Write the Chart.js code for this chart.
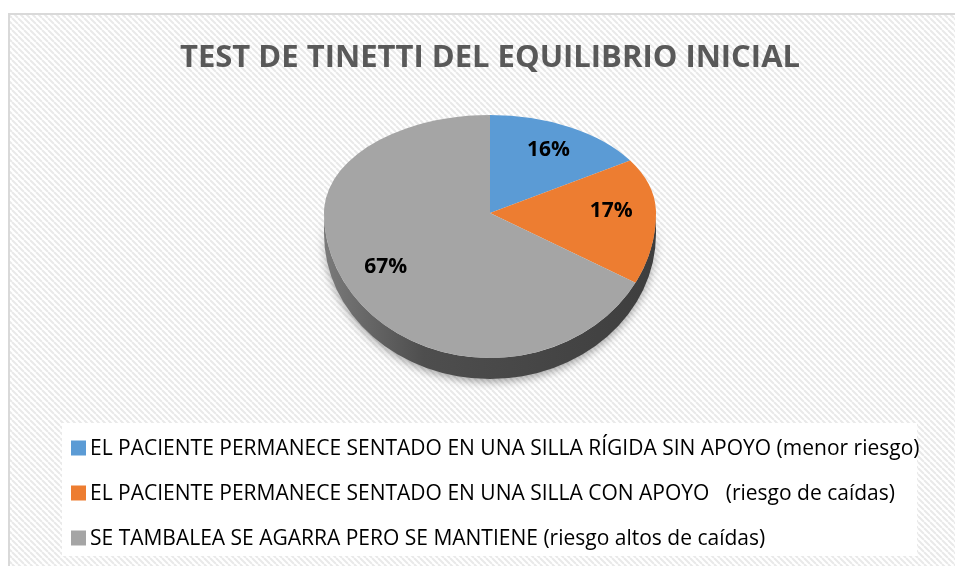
<!DOCTYPE html>
<html>
<head>
<meta charset="utf-8">
<script src="https://cdn.jsdelivr.net/npm/chart.js@4.4.1/dist/chart.umd.min.js"></script>
<style>
  html, body { margin: 0; padding: 0; background: #ffffff; }
  #wrap { width: 955px; height: 566px; position: relative; }
</style>
</head>
<body>
<div id="wrap"><canvas id="pieChart" width="955" height="566"></canvas></div>
<script>
const chartTitle = 'TEST DE TINETTI DEL EQUILIBRIO INICIAL';
const categories = [
  'EL PACIENTE PERMANECE SENTADO EN UNA SILLA RÍGIDA SIN APOYO (menor riesgo)',
  'EL PACIENTE PERMANECE SENTADO EN UNA SILLA CON APOYO   (riesgo de caídas)',
  'SE TAMBALEA SE AGARRA PERO SE MANTIENE (riesgo altos de caídas)'
];
const values = [16, 17, 67];
const colors = ['#5b9bd5', '#ed7d31', '#a5a5a5'];

// aspecto "3D": mitad superior mas aplastada que la inferior
const TOP_SCALE = 0.59;
const BOTTOM_SCALE = 0.873;
const DEPTH = 21;
const LABEL_POS = 0.73;

function makeHatch() {
  const c = document.createElement('canvas');
  c.width = 6; c.height = 6;
  const g = c.getContext('2d');
  g.fillStyle = '#ffffff';
  g.fillRect(0, 0, 6, 6);
  g.strokeStyle = '#e9e9e9';
  g.lineWidth = 2;
  for (let o = -6; o <= 6; o += 6) {
    g.beginPath();
    g.moveTo(o, 0);
    g.lineTo(o + 6, 6);
    g.stroke();
  }
  return c;
}

const framePlugin = {
  id: 'frame',
  beforeDraw(chart) {
    const ctx = chart.ctx;
    ctx.save();
    ctx.fillStyle = '#ffffff';
    ctx.fillRect(0, 0, chart.width, chart.height);
    ctx.fillStyle = ctx.createPattern(makeHatch(), 'repeat');
    ctx.fillRect(10, 15, chart.width, chart.height);
    ctx.strokeStyle = '#d9d9d9';
    ctx.lineWidth = 2;
    ctx.strokeRect(9, 14, chart.width + 10, chart.height + 10);
    // caja blanca de la leyenda
    ctx.fillStyle = '#ffffff';
    ctx.fillRect(62, 423, 855, 133);

    // titulo
    ctx.fillStyle = '#595959';
    ctx.font = 'bold 31px "Open Sans"';
    ctx.textAlign = 'center';
    ctx.textBaseline = 'middle';
    ctx.fillText(chartTitle, 490, 58);

    // leyenda
    ctx.font = '21px "Open Sans"';
    ctx.textAlign = 'left';
    categories.forEach((label, i) => {
      const y = 448 + i * 45;
      ctx.fillStyle = colors[i];
      ctx.fillRect(71, y - 7.5, 15, 15);
      ctx.fillStyle = '#000000';
      ctx.fillText(label, 90, y + 1);
    });
    ctx.restore();
  },
  beforeDatasetsDraw(chart) {
    const ctx = chart.ctx;
    const meta = chart.getDatasetMeta(0);
    const arc0 = meta.data[0];
    const cx = arc0.x, cy = arc0.y, r = arc0.outerRadius;

    // lateral
    ctx.save();
    ctx.shadowColor = 'rgba(0,0,0,0.35)';
    ctx.shadowBlur = 8;
    ctx.shadowOffsetY = 3;
    ctx.translate(cx, cy);
    ctx.scale(1, BOTTOM_SCALE);
    const d = DEPTH / BOTTOM_SCALE;
    const grad = ctx.createLinearGradient(-r, 0, r, 0);
    grad.addColorStop(0, '#7a7a7a');
    grad.addColorStop(0.3, '#4e4e4e');
    grad.addColorStop(1, '#3e3e3e');
    ctx.beginPath();
    ctx.arc(0, 0, r, 0, Math.PI, false);
    ctx.lineTo(-r, d);
    ctx.arc(0, d, r, Math.PI, 0, true);
    ctx.closePath();
    ctx.fillStyle = grad;
    ctx.fill();
    ctx.restore();

    // cara superior en dos mitades
    [[0, cy, TOP_SCALE], [cy, chart.height - cy, BOTTOM_SCALE]].forEach(([y0, h, k]) => {
      ctx.save();
      ctx.beginPath();
      ctx.rect(0, y0, chart.width, h);
      ctx.clip();
      ctx.translate(cx, cy);
      ctx.scale(1, k);
      ctx.translate(-cx, -cy);
      meta.data.forEach(a => a.draw(ctx));
      ctx.restore();
    });
    return false;
  },
  afterDraw(chart) {
    const ctx = chart.ctx;
    const meta = chart.getDatasetMeta(0);
    const total = values.reduce((a, b) => a + b, 0);
    ctx.save();
    ctx.font = 'bold 21px "Open Sans"';
    ctx.fillStyle = '#000000';
    ctx.textAlign = 'center';
    ctx.textBaseline = 'middle';
    meta.data.forEach((a, i) => {
      const mid = (a.startAngle + a.endAngle) / 2;
      const dx = Math.cos(mid) * a.outerRadius * LABEL_POS;
      const dy = Math.sin(mid) * a.outerRadius * LABEL_POS;
      const y = a.y + dy * (dy < 0 ? TOP_SCALE : BOTTOM_SCALE);
      ctx.fillText(Math.round(values[i] / total * 100) + '%', a.x + dx, y);
    });
    ctx.restore();
  }
};

const ctx = document.getElementById('pieChart').getContext('2d');
const pieChart = new Chart(ctx, {
  type: 'pie',
  data: {
    labels: categories,
    datasets: [{
      data: values,
      backgroundColor: colors,
      borderWidth: 0
    }]
  },
  options: {
    responsive: false,
    animation: false,
    layout: {
      padding: { left: 324, right: 299, top: 47, bottom: 187 }
    },
    plugins: {
      legend: { display: false },
      title: { display: false },
      tooltip: { enabled: false }
    }
  },
  plugins: [framePlugin]
});
</script>
</body>
</html>
